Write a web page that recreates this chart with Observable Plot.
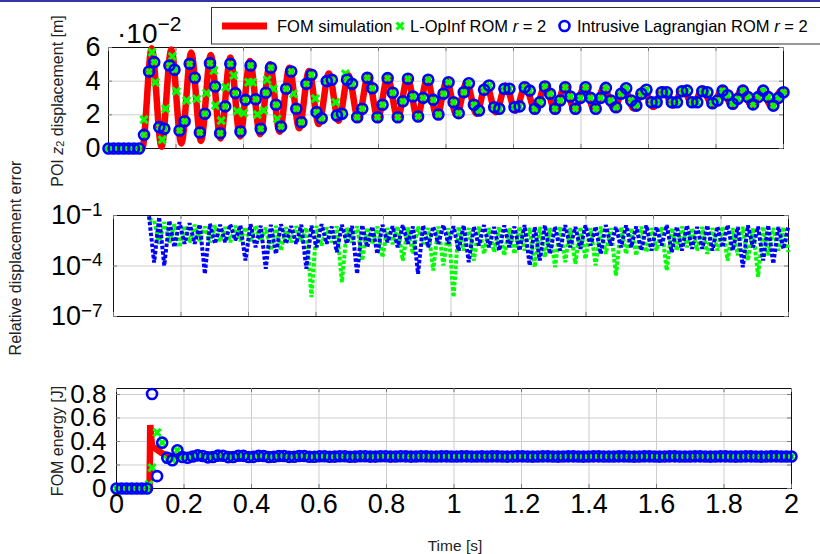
<!DOCTYPE html>
<html><head><meta charset="utf-8">
<script src="https://cdn.jsdelivr.net/npm/d3@7"></script>
<script src="https://cdn.jsdelivr.net/npm/@observablehq/plot@0.6"></script>
<style>
html,body{margin:0;padding:0;background:#fff;}
#root{position:relative;width:820px;height:554px;overflow:hidden;background:#fff;}
#root svg{position:absolute;left:0;}
</style></head><body><div id="root"></div>
<script>
const FONT = '"Liberation Sans", Arial, Helvetica, sans-serif';

// ---------- ticks ----------
const xTicks = [0, 0.2, 0.4, 0.6, 0.8, 1, 1.2, 1.4, 1.6, 1.8, 2];
const dispTicks = [0, 0.02, 0.04, 0.06];
const errTicks = [1e-1, 1e-4, 1e-7];
const energyTicks = [0, 0.2, 0.4, 0.6, 0.8];

// ---------- sample grid of the ROM markers ----------
const nSamples = 134;
const sampleTime = d3.range(nSamples).map(i => i * 2 / (nSamples - 1));

// ---------- FOM displacement (turning points of the red curve) ----------
const fomTime = [0, 0.1, 0.128,0.157,0.186,0.216,0.245,0.274,0.303,0.332,0.361,0.390,0.419,0.449,0.478,0.507,0.536,0.565,0.594,0.623,0.653,0.682,0.711,0.740,0.769,0.798,0.827,0.857,0.886,0.915,0.944,0.973,1.002,1.031,1.061,1.090,1.119,1.148,1.177,1.206,1.235,1.264,1.294,1.323,1.352,1.381,1.410,1.439,1.468,1.498,1.527,1.556,1.585,1.614,1.643,1.672,1.702,1.731,1.760,1.789,1.818,1.847,1.876,1.906,1.935,1.964,1.993,2.0];
const fomDisp = [0, 0, 0.0595,0.001,0.0588,0.003,0.057,0.0045,0.0555,0.006,0.054,0.0072,0.052,0.0085,0.050,0.010,0.048,0.012,0.046,0.0145,0.0445,0.0165,0.0435,0.0175,0.0428,0.018,0.0422,0.0182,0.0418,0.0185,0.0412,0.019,0.0402,0.0198,0.0392,0.0206,0.0382,0.0215,0.0375,0.0225,0.0372,0.0228,0.0372,0.023,0.0368,0.023,0.0366,0.0232,0.0362,0.0234,0.036,0.0238,0.0355,0.0246,0.0352,0.0255,0.035,0.026,0.0348,0.026,0.0347,0.0258,0.0346,0.0256,0.0345,0.0252,0.0343,0.0338];

// ---------- Intrusive Lagrangian ROM displacement (blue circles) ----------
const intrusiveDisp = [
0,0,0,0,0,0,0,0.0081,0.0457,0.0513,
0.0127,0.0117,0.0493,0.0468,0.0107,0.0162,0.0503,0.042,0.0095,0.0206,
0.0507,0.0368,0.0091,0.025,0.0503,0.0329,0.0101,0.0289,0.0493,0.0293,
0.0117,0.0331,0.048,0.026,0.013,0.0355,0.0457,0.0236,0.0156,0.0384,
0.0438,0.0216,0.018,0.04,0.0408,0.0196,0.0206,0.0408,0.0384,0.0186,
0.0236,0.042,0.0358,0.0186,0.026,0.0418,0.0331,0.0186,0.0281,0.0414,
0.0309,0.019,0.0301,0.0408,0.0289,0.0202,0.0325,0.0394,0.0275,0.021,
0.0334,0.0388,0.026,0.0226,0.0349,0.0374,0.0245,0.0236,0.0355,0.0355,
0.0245,0.025,0.0364,0.0344,0.0236,0.0275,0.0368,0.0325,0.0236,0.0285,
0.0364,0.0309,0.0236,0.0301,0.0364,0.0301,0.0236,0.0301,0.036,0.0285,
0.0245,0.0325,0.0358,0.0285,0.0255,0.0325,0.0349,0.0275,0.0275,0.0334,
0.0334,0.0275,0.0275,0.034,0.0344,0.0275,0.0275,0.034,0.0334,0.0269,
0.0285,0.0344,0.0316,0.0266,0.0295,0.0344,0.0305,0.0262,0.0305,0.0344,
0.0305,0.0255,0.0301,0.0334];

// L-OpInf displacement: coincides with the intrusive samples, plus the visible extra crosses
const opinfExtraTime = [0.105,0.129,0.139,0.159,0.169,0.189,0.201,0.231,0.261,0.290,0.312,0.317,0.334,0.347,0.371,0.381,0.401,0.415,0.427,0.441,0.460,0.470,0.489,0.500,0.548,0.613,0.673,0.702];
const opinfExtraDisp = [0.0172,0.0572,0.0394,0.0052,0.0236,0.0547,0.034,0.0285,0.0295,0.0329,0.0463,0.0255,0.0166,0.0364,0.0434,0.0222,0.021,0.0394,0.0394,0.0202,0.0226,0.0408,0.0355,0.0176,0.0325,0.0297,0.0275,0.0444];

// ---------- relative displacement error (from sample 7 on) ----------
const errIntrusive = [
0.09,1.6e-4,0.08,1.07e-4,0.05,1.3e-3,0.04,2.1e-3,0.035,2.1e-3,
0.03,3.4e-5,0.032,2.1e-3,0.028,2.6e-3,0.03,3.3e-3,0.026,2.1e-4,
0.03,1.3e-3,0.025,6.8e-5,0.028,5.2e-4,0.03,2.1e-3,0.024,2.1e-3,
0.028,6.8e-5,0.025,1.3e-3,0.03,2.1e-3,0.022,6.6e-4,0.028,2.1e-3,
0.024,3.4e-5,0.027,1.3e-3,0.022,5.2e-4,0.028,2.6e-3,0.023,1.3e-3,
0.027,2.1e-3,0.022,3.4e-5,0.026,1.3e-3,0.022,2.1e-3,0.027,2.1e-3,
0.023,8.3e-4,0.026,1.7e-4,0.022,1.65e-3,0.027,1.3e-3,0.021,8.3e-4,
0.026,1.3e-3,0.022,8.3e-4,0.027,1.07e-4,0.021,2.1e-4,0.026,5.2e-4,
0.022,8.3e-4,0.027,1.3e-3,0.021,1.05e-3,0.026,1.65e-3,0.022,5.2e-4,
0.027,1.65e-3,0.021,1.3e-3,0.026,1.3e-3,0.022,8.3e-4,0.026,8.3e-4,
0.021,1.65e-3,0.027,6.6e-4,0.022,8.3e-4,0.026,1.05e-3,0.021,1.05e-3,
0.026,8.3e-4,0.022,1.3e-3,0.027,8.3e-4,0.021,8.5e-5,0.026,1.3e-3,
0.022,2.1e-4,0.026,1.35e-4,0.021,1.05e-3,0.025];
const errOpInf = [
0.06,0.05,2.1e-3,0.04,2.5e-3,0.03,1.3e-3,0.025,2.5e-3,0.028,
3e-3,0.022,2.5e-3,0.026,3e-3,0.02,2.6e-3,0.024,3e-3,0.02,
2.5e-3,0.025,3e-3,0.019,8.3e-4,0.024,8.3e-4,0.02,2.5e-3,0.023,
3e-3,0.019,1.4e-6,0.024,1.65e-3,0.019,2.5e-3,0.023,1.07e-5,0.018,
2.5e-3,0.023,2.1e-4,0.019,2e-3,0.022,3.3e-4,0.018,2e-3,0.023,
2.1e-4,0.019,5.2e-4,0.022,2e-3,0.018,5.4e-5,0.022,1.07e-4,0.018,
1.4e-6,0.022,8.3e-4,0.018,2.1e-4,0.022,5.2e-4,0.018,6.6e-4,0.021,
4.2e-4,0.018,5.2e-4,0.022,8.3e-4,0.018,8.5e-5,0.021,3.3e-4,0.018,
8.5e-5,0.022,1.7e-4,0.018,1.35e-4,0.021,2.6e-4,0.018,1.07e-4,0.022,
5.2e-4,0.018,2.7e-5,0.021,5.2e-4,0.018,4.2e-4,0.022,6.6e-4,0.018,
8.3e-4,0.021,5.4e-5,0.018,8.3e-4,0.022,1.3e-3,0.018,8.3e-4,0.021,
5.2e-4,0.018,8.3e-4,0.022,2.1e-4,0.018,4.2e-4,0.021,2.1e-4,0.018,
2.3e-5,0.022,4.2e-4,0.018,8.3e-4,0.021,6.6e-4];
const errTime = sampleTime.slice(7);

// ---------- energy ----------
const fomEnergyTime = [0, 0.098, 0.1, 0.105, 0.135, 0.16, 2.0];
const fomEnergy = [0, 0, 0.54, 0.36, 0.30, 0.274, 0.272];
const intrusiveEnergy = [
0,0,0,0,0,0,0,
0.804,0.105,0.39,0.262,0.24,0.325,
0.268,0.262,0.272,0.282,0.277,0.265,0.268,0.28,0.279,0.267,
0.268,0.279,0.278,0.268,0.269,0.278,0.277,0.268,0.27,0.277,
0.276,0.269,0.27,0.276,0.276,0.27,0.27,0.275,0.275,0.27,
0.271,0.275,0.274,0.27,0.271,0.274,0.274,0.271,0.271,0.274,
0.274,0.271,0.272,0.274,0.273,0.271,0.272,0.274,0.273,0.272,
0.272,0.273,0.273,0.272,0.272,0.273,0.273,0.272,0.272,0.273,
0.272,0.273,0.273,0.272,0.271,0.272,0.273,0.273,0.272,0.271,
0.272,0.273,0.273,0.272,0.271,0.272,0.273,0.273,0.272,0.271,
0.272,0.273,0.273,0.272,0.272,0.272,0.273,0.273,0.272,0.271,
0.272,0.273,0.273,0.272,0.271,0.272,0.273,0.273,0.272,0.272,
0.272,0.273,0.273,0.272,0.271,0.272,0.273,0.273,0.272,0.271,
0.272,0.273,0.273,0.272,0.271,0.272,0.273,0.273,0.272,0.272,
0.272];
const opinfEnergyEarly = [0,0,0,0,0,0,0,0.177,0.476,0.39,0.248,0.245,0.325];
const opinfEnergy = opinfEnergyEarly.concat(intrusiveEnergy.slice(opinfEnergyEarly.length));
const opinfEnergyExtraTime = [0.096];
const opinfEnergyExtra = [0.034];

// ---------- styling ----------
const RED = "#ff0000", GREEN = "#00ff00", BLUE = "#0000ff";
const GRID = "#cdcdcd", TICK = "#7a7a7a";
const root = document.getElementById("root");

function innerTicks(yLo, yLoIn, yHiIn, yHi, yT) {
  const xIn = 4 * 2 / 675;
  return [
    Plot.ruleX(xTicks, {x: d => d, y1: yLo, y2: yLoIn, stroke: TICK}),
    Plot.ruleX(xTicks, {x: d => d, y1: yHiIn, y2: yHi, stroke: TICK}),
    Plot.ruleY(yT, {y: d => d, x1: 0, x2: xIn, stroke: TICK}),
    Plot.ruleY(yT, {y: d => d, x1: 2 - xIn, x2: 2, stroke: TICK})
  ];
}
const baseStyle = {fontFamily: FONT, overflow: "visible", background: "transparent", color: "#000"};
const circleOpts = {r: 5, stroke: BLUE, strokeWidth: 2.6, fill: "none"};
const crossOpts = {symbol: "times", r: 3.4, stroke: GREEN, strokeWidth: 3};

// ---------- panel 1 : displacement ----------
const d1 = 0.06 * 4 / 101;
const p1 = Plot.plot({
  width: 820, height: 115, marginLeft: 108, marginRight: 37, marginTop: 7, marginBottom: 7,
  style: baseStyle,
  x: {domain: [0, 2], axis: null},
  y: {domain: [0, 0.06], axis: null},
  marks: [
    Plot.gridX(xTicks.slice(1, -1), {stroke: GRID, strokeOpacity: 1}),
    Plot.gridY([0.02, 0.04], {stroke: GRID, strokeOpacity: 1}),
    Plot.frame({stroke: "#111"}),
    ...innerTicks(0, d1, 0.06 - d1, 0.06, dispTicks),
    Plot.line(fomTime, {x: d => d, y: (d, i) => fomDisp[i], stroke: RED, strokeWidth: 6.5, curve: "monotone-x"}),
    Plot.dot(sampleTime, {x: d => d, y: (d, i) => intrusiveDisp[i], ...crossOpts}),
    Plot.dot(opinfExtraTime, {x: d => d, y: (d, i) => opinfExtraDisp[i], ...crossOpts}),
    Plot.dot(sampleTime, {x: d => d, y: (d, i) => intrusiveDisp[i], ...circleOpts}),
    Plot.axisY({ticks: dispTicks, tickFormat: d => String(Math.round(d * 100)), tickSize: 0, tickPadding: 8, fontSize: 27, label: null})
  ]
});
p1.style.top = "40px";
root.appendChild(p1);

// ---------- panel 2 : relative error ----------
const f2 = Math.pow(10, 4 / 16.83);
const p2 = Plot.plot({
  width: 820, height: 121, marginLeft: 113, marginRight: 32, marginTop: 10, marginBottom: 10,
  style: baseStyle,
  x: {domain: [0, 2], axis: null},
  y: {type: "log", domain: [1e-7, 1e-1], axis: null},
  marks: [
    Plot.gridX(xTicks.slice(1, -1), {stroke: GRID, strokeOpacity: 1}),
    Plot.gridY([1e-4], {stroke: GRID, strokeOpacity: 1}),
    Plot.frame({stroke: "#111"}),
    ...innerTicks(1e-7, 1e-7 * f2, 1e-1 / f2, 1e-1, errTicks),
    Plot.line(errTime, {x: d => d, y: (d, i) => errOpInf[i], stroke: GREEN, strokeWidth: 4, strokeDasharray: "3.5 2", strokeLinecap: "butt", strokeLinejoin: "miter"}),
    Plot.line(errTime, {x: d => d, y: (d, i) => errIntrusive[i], stroke: BLUE, strokeWidth: 4, strokeDasharray: "3.5 2", strokeLinecap: "butt", strokeLinejoin: "miter"}),
    Plot.axisY({ticks: errTicks, tickFormat: d => "10|" + Math.round(Math.log10(d)), tickSize: 0, tickPadding: 11, fontSize: 27, label: null})
  ]
});
p2.style.top = "205px";
root.appendChild(p2);
d3.select(p2).selectAll("text").each(function () {
  const s = this.textContent;
  if (!s.includes("|")) return;
  const [b, e] = s.split("|");
  const t = d3.select(this);
  t.selectAll("*").remove();
  t.text(null);
  t.append("tspan").text(b);
  t.append("tspan").attr("dy", "-0.45em").attr("font-size", "0.7em").text(e.replace("-", "\u2212"));
});

// ---------- panel 3 : energy ----------
const d3y = 0.851 * 4 / 100;
const p3 = Plot.plot({
  width: 820, height: 150, marginLeft: 116, marginRight: 29, marginTop: 8, marginBottom: 42,
  style: baseStyle,
  x: {domain: [0, 2], axis: null},
  y: {domain: [0, 0.851], axis: null},
  marks: [
    Plot.gridX(xTicks.slice(1, -1), {stroke: GRID, strokeOpacity: 1}),
    Plot.gridY([0.2, 0.4, 0.6, 0.8], {stroke: GRID, strokeOpacity: 1}),
    Plot.frame({stroke: "#111"}),
    ...innerTicks(0, d3y, 0.851 - d3y, 0.851, energyTicks),
    Plot.line(fomEnergyTime, {x: d => d, y: (d, i) => fomEnergy[i], stroke: RED, strokeWidth: 6.5, strokeLinecap: "butt", strokeLinejoin: "miter"}),
    Plot.dot(sampleTime, {x: d => d, y: (d, i) => opinfEnergy[i], ...crossOpts}),
    Plot.dot(opinfEnergyExtraTime, {x: d => d, y: (d, i) => opinfEnergyExtra[i], ...crossOpts}),
    Plot.dot(sampleTime, {x: d => d, y: (d, i) => intrusiveEnergy[i], ...circleOpts}),
    Plot.axisY({ticks: energyTicks, tickFormat: d => String(+d.toFixed(1)), tickSize: 0, tickPadding: 10, fontSize: 26, label: null}),
    Plot.axisX({ticks: xTicks, tickFormat: d => String(+d.toFixed(1)), tickSize: 0, tickPadding: 5, fontSize: 27, label: null})
  ]
});
p3.style.top = "380px";
root.appendChild(p3);

// ---------- overlay: frame line, legend, titles ----------
const ov = d3.select(root).append("svg")
  .attr("width", 820).attr("height", 554)
  .style("position", "absolute").style("top", "0px").style("left", "0px")
  .style("font-family", FONT).style("pointer-events", "none");

ov.append("rect").attr("x", 0).attr("y", 0).attr("width", 820).attr("height", 2).attr("fill", "#3535a5");

// legend
ov.append("rect").attr("x", 211.5).attr("y", 7.5).attr("width", 650).attr("height", 36.5)
  .attr("fill", "#fff").attr("stroke", "#333").attr("stroke-width", 1);
ov.append("line").attr("x1", 222).attr("x2", 267).attr("y1", 26).attr("y2", 26)
  .attr("stroke", RED).attr("stroke-width", 7);
ov.append("text").attr("x", 277).attr("y", 31.5).attr("font-size", 16.5).text("FOM simulation");
ov.append("path").attr("transform", "translate(400,26)")
  .attr("d", "M-3.5,-3.5L3.5,3.5M-3.5,3.5L3.5,-3.5").attr("stroke", GREEN).attr("stroke-width", 3);
const lt2 = ov.append("text").attr("x", 410).attr("y", 31.5).attr("font-size", 16.5);
lt2.append("tspan").text("L-OpInf ROM ");
lt2.append("tspan").attr("font-style", "italic").text("r");
lt2.append("tspan").text(" = 2");
ov.append("circle").attr("cx", 564.5).attr("cy", 26).attr("r", 5)
  .attr("fill", "none").attr("stroke", BLUE).attr("stroke-width", 2.6);
const lt3 = ov.append("text").attr("x", 577).attr("y", 31.5).attr("font-size", 16.5);
lt3.append("tspan").text("Intrusive Lagrangian ROM ");
lt3.append("tspan").attr("font-style", "italic").text("r");
lt3.append("tspan").text(" = 2");

// scale multiplier
const mult = ov.append("text").attr("x", 117).attr("y", 43).attr("font-size", 28);
mult.append("tspan").text("\u00b710");
mult.append("tspan").attr("dy", -12).attr("font-size", 21).text("\u22122");

// axis titles
function vtitle(cx, cy, build) {
  const t = ov.append("text").attr("transform", `translate(${cx},${cy}) rotate(-90)`)
    .attr("text-anchor", "middle").attr("dominant-baseline", "central").attr("font-size", 16).attr("fill", "#222");
  build(t);
}
vtitle(57, 101, t => {
  t.append("tspan").text("POI ");
  t.append("tspan").attr("font-style", "italic").text("z");
  t.append("tspan").attr("font-size", 11).attr("dy", 3).text("2");
  t.append("tspan").attr("dy", -3).text(" displacement [m]");
});
vtitle(15, 258, t => t.text("Relative displacement error"));
vtitle(57, 441, t => t.text("FOM energy [J]"));
ov.append("text").attr("x", 455).attr("y", 545).attr("text-anchor", "middle")
  .attr("dominant-baseline", "central").attr("font-size", 15.5).attr("fill", "#222").text("Time [s]");
</script></body></html>
